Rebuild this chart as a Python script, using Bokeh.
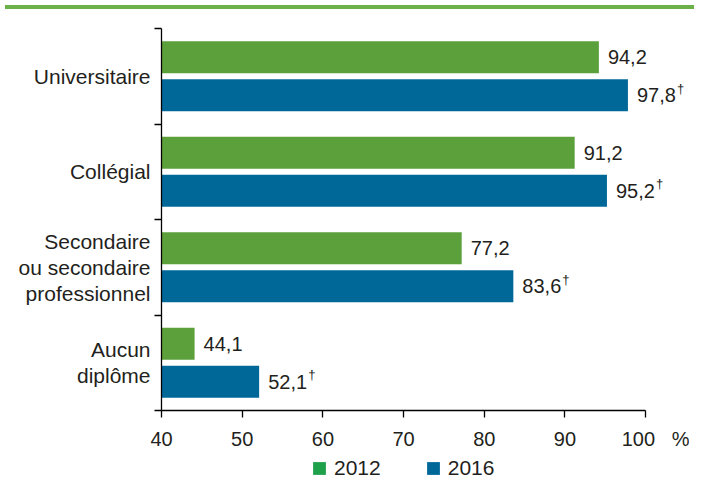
from bokeh.plotting import figure
from bokeh.models import Range1d, FixedTicker, ColumnDataSource, Legend, LegendItem, Div
from bokeh.layouts import column
from bokeh.core.properties import value
from bokeh.embed import file_html
from bokeh.resources import INLINE

# ---- data ----
categories = ["Universitaire", "Collégial", "Secondaire\nou secondaire\nprofessionnel", "Aucun\ndiplôme"]
values_2012 = [94.2, 91.2, 77.2, 44.1]
values_2016 = [97.8, 95.2, 83.6, 52.1]
daggers_2016 = ["†", "†", "†", "†"]
series_names = ["2012", "2016"]
x_ticks = [40, 50, 60, 70, 80, 90, 100]

# ---- style ----
FONT = "Liberation Sans"
TXT = "#231f20"
BAR_GREEN = "#5ca03c"
BAR_BLUE = "#006899"
LEG_GREEN = "#1fa04b"
LEG_BLUE = "#006899"
TOP_LINE = "#6cb04a"

n = len(categories)
centers = [n - i - 0.5 for i in range(n)]
fmt = lambda v: f"{v:.1f}".replace(".", ",")

src12 = ColumnDataSource(dict(y=[c + 0.2 for c in centers], v=values_2012,
                              lab=[fmt(v) for v in values_2012]))
src16 = ColumnDataSource(dict(y=[c - 0.2 for c in centers], v=values_2016,
                              lab=[fmt(v) for v in values_2016], dag=daggers_2016))

p = figure(width=689, height=438, output_backend="svg", toolbar_location=None,
           x_range=Range1d(40, 105.43), y_range=Range1d(0, n),
           min_border_left=161, min_border_right=0, min_border_top=14, min_border_bottom=42)
p.outline_line_color = None
p.xgrid.grid_line_color = None
p.ygrid.grid_line_color = None
p.background_fill_color = "white"
p.border_fill_color = "white"

p.hbar(y="y", left=x_ticks[0], right="v", height=0.335, source=src12,
       fill_color=BAR_GREEN, line_color=None)
p.hbar(y="y", left=x_ticks[0], right="v", height=0.335, source=src16,
       fill_color=BAR_BLUE, line_color=None)

p.text(x="v", y="y", text="lab", source=src12, x_offset=9,
       text_font=value(FONT), text_font_size="20px", text_color=TXT,
       text_align="left", text_baseline="middle")
p.text(x="v", y="y", text="lab", source=src16, x_offset=9,
       text_font=value(FONT), text_font_size="20px", text_color=TXT,
       text_align="left", text_baseline="middle")
p.text(x="v", y="y", text="dag", source=src16, x_offset=49, y_offset=-7,
       text_font=value(FONT), text_font_size="13px", text_color=TXT,
       text_align="left", text_baseline="middle")

# x axis
xa = p.xaxis[0]
xa.ticker = FixedTicker(ticks=x_ticks, minor_ticks=[])
xa.bounds = (x_ticks[0], x_ticks[-1])
overrides = {t: str(t) for t in x_ticks}
overrides[x_ticks[-1]] = "\u00a0" * 7 + "100" + "\u00a0" * 3 + "%"
xa.major_label_overrides = overrides
xa.major_tick_out = 7
xa.major_tick_in = 0
xa.major_label_standoff = 10
xa.axis_line_color = "black"
xa.axis_line_width = 1.3
xa.major_tick_line_color = "black"
xa.major_tick_line_width = 1.3
xa.major_label_text_font = FONT
xa.major_label_text_font_size = "20px"
xa.major_label_text_color = TXT

# y axis
ya = p.yaxis[0]
ya.ticker = FixedTicker(ticks=centers, minor_ticks=list(range(n + 1)))
ya.major_label_overrides = {c: categories[i] for i, c in enumerate(centers)}
ya.major_tick_out = 0
ya.major_tick_in = 0
ya.minor_tick_out = 7
ya.minor_tick_in = 0
ya.minor_tick_line_color = "black"
ya.minor_tick_line_width = 1.3
ya.axis_line_color = "black"
ya.axis_line_width = 1.3
ya.major_label_standoff = 4
ya.major_label_text_font = FONT
ya.major_label_text_font_size = "21px"
ya.major_label_text_color = TXT
ya.major_label_text_line_height = 1.12

# legend strip (separate small figure so the legend is not clipped)
pl = figure(width=689, height=29, output_backend="svg", toolbar_location=None,
            x_range=Range1d(0, 1), y_range=Range1d(0, 1),
            min_border_left=0, min_border_right=0, min_border_top=0, min_border_bottom=0)
pl.axis.visible = False
pl.grid.visible = False
pl.outline_line_color = None
# zero-size swatches, only used for the legend
r12 = pl.quad(left=[0], right=[0], bottom=[0], top=[0], fill_color=LEG_GREEN, line_color=None)
r16 = pl.quad(left=[0], right=[0], bottom=[0], top=[0], fill_color=LEG_BLUE, line_color=None)
legend = Legend(items=[LegendItem(label=series_names[0], renderers=[r12]),
                       LegendItem(label=series_names[1], renderers=[r16])],
                orientation="horizontal", location=(150, 1),
                glyph_width=16, glyph_height=16, label_standoff=7, spacing=44,
                padding=0, margin=0, border_line_color=None, background_fill_alpha=0,
                label_text_font=FONT, label_text_font_size="21px", label_text_color=TXT,
                label_height=20)
pl.add_layout(legend, "center")

top = Div(width=689, height=4, styles={"background-color": TOP_LINE})
layout = column(top, p, pl, spacing=0)

open("out.html", "w").write(file_html(layout, INLINE))
